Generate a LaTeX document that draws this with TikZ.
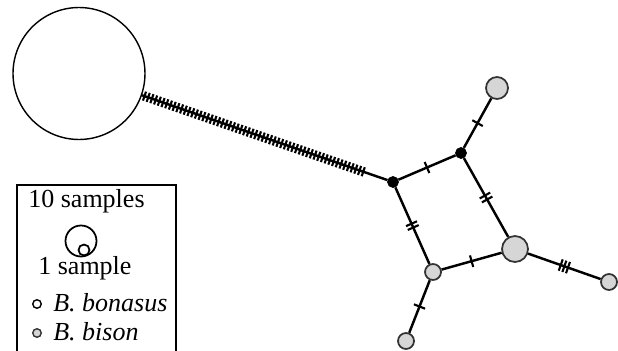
\documentclass[tikz,border=0pt]{standalone}
\usepackage{fontspec}
\setmainfont{Liberation Serif}
\usetikzlibrary{positioning}
\definecolor{hapgray}{RGB}{214,214,214}
\tikzset{
    hapw/.style = {circle, inner sep=0pt, draw=black, line width=0.8pt, fill=white},
    hapg/.style = {circle, inner sep=0pt, draw=black!80, line width=1pt, fill=hapgray},
    hapm/.style = {circle, inner sep=0pt, draw=black, fill=black, minimum size=0.22cm},
    edgen/.style = {-, line width=1.4pt, black},
    tick/.style = {rectangle, draw=black, line width=1.2pt, inner sep=0pt, minimum width=0pt, minimum height=0.24cm, sloped},
    hatch/.style = {rectangle, draw=black, line width=1.2pt, inner sep=0pt, minimum width=0pt, minimum height=0.19cm, sloped},
    lbl/.style = {inner sep=0pt, anchor=base west, font=\fontsize{14.8}{17}\selectfont}
}

\begin{document}
\begin{tikzpicture}[x=0.02cm, y=-0.02cm]
\useasboundingbox (0,0) rectangle (618,351);
% haplotypes
\node[hapw, minimum size=2.64cm] at (79,73.5) (h1) {};
\node[hapm] at (393,182) (a) {};
\node[hapm] at (461,153) (b) {};
\node[hapg, minimum size=0.44cm] at (497,88) (c) {};
\node[hapg, minimum size=0.52cm] at (515,249) (d) {};
\node[hapg, minimum size=0.32cm] at (433,272) (e) {};
\node[hapg, minimum size=0.32cm] at (609,282) (f) {};
\node[hapg, minimum size=0.32cm] at (406,341) (g) {};

% links
\draw[edgen] (h1) -- (a);
\foreach \k [evaluate=\k as \p using {0.01+0.0151*\k}] in {0,...,59}
    \path (h1) -- (a) node[hatch, pos=\p] {};
\draw[edgen] (a) -- node[tick] {} (b);
\draw[edgen] (b) -- node[tick] {} (c);
\draw[edgen] (b) -- node[tick, pos=0.475] {} node[tick, pos=0.525] {} (d);
\draw[edgen] (a) -- node[tick, pos=0.475] {} node[tick, pos=0.525] {} (e);
\draw[edgen] (e) -- node[tick] {} (d);
\draw[edgen] (d) -- node[tick, pos=0.45] {} node[tick, pos=0.5] {} node[tick, pos=0.55] {} (f);
\draw[edgen] (e) -- node[tick] {} (g);

% legend
\draw[line width=0.9pt] (17,351) |- (176,185) -- (176,351);
\node[lbl] at (28,208) (ten) {10 samples};
\node[hapw, minimum size=0.62cm, line width=1pt] at (81,241) (big) {};
\node[hapw, minimum size=0.22cm, line width=1pt] at (84,250) (small) {};
\node[lbl] at (38,274) (one) {1 sample};
\node[hapw, minimum size=0.17cm] at (37,304) (kw) {};
\node[lbl] at (53,311) (bon) {\textit{B. bonasus}};
\node[hapg, minimum size=0.17cm, line width=0.8pt] at (37,333) (kg) {};
\node[lbl] at (53,340) (bis) {\textit{B. bison}};

\end{tikzpicture}
\end{document}
